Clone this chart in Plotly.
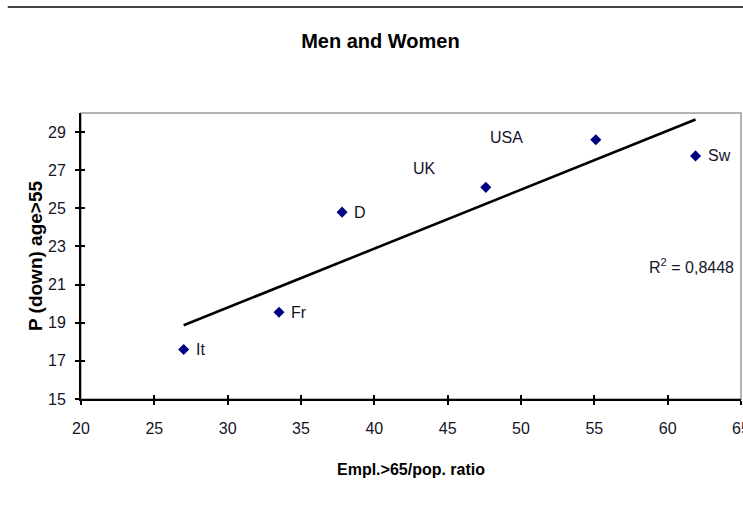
import numpy as np
import plotly.graph_objects as go

# ---- data ----
countries = ["It", "Fr", "D", "UK", "USA", "Sw"]
empl_ratio = [27.0, 33.5, 37.8, 47.6, 55.1, 61.9]      # Empl.>65/pop. ratio
p_down = [17.6, 19.55, 24.8, 26.1, 28.6, 27.75]        # P (down) age>55
x_ticks = [20, 25, 30, 35, 40, 45, 50, 55, 60, 65]
y_ticks = [15, 17, 19, 21, 23, 25, 27, 29]
r2_text = "R<sup>2</sup> = 0,8448"
title_text = "Men and Women"
x_title = "Empl.>65/pop. ratio"
y_title = "P (down) age>55"

FONT = "Liberation Sans, Arial, sans-serif"
TXT = "#15152a"

# linear trend (least squares) through the data
slope, intercept = np.polyfit(empl_ratio, p_down, 1)
tx = np.array([min(empl_ratio), max(empl_ratio)])
ty = slope * tx + intercept

fig = go.Figure()
fig.add_trace(go.Scatter(x=tx, y=ty, mode="lines",
                         line=dict(color="black", width=2.6),
                         hoverinfo="skip", showlegend=False))
fig.add_trace(go.Scatter(x=empl_ratio, y=p_down, mode="markers",
                         marker=dict(symbol="diamond", size=8.5, color="#000080"),
                         showlegend=False))
# invisible trace for the inner tick overlay axes
fig.add_trace(go.Scatter(x=[20], y=[15], xaxis="x2", yaxis="y2", mode="markers",
                         marker=dict(size=1, opacity=0),
                         showlegend=False, hoverinfo="skip"))

# country labels (offsets in pixels from each point)
label_offsets = {"It": (10, 0, "left"), "Fr": (10, 0, "left"), "D": (10, 0, "left"),
                 "UK": (-61, 19, "center"), "USA": (-89, 2, "center"), "Sw": (10, 0, "left")}
for c, xv, yv in zip(countries, empl_ratio, p_down):
    dx, dy, anc = label_offsets[c]
    fig.add_annotation(x=xv, y=yv, text=c, showarrow=False, xanchor=anc,
                       yanchor="middle", xshift=dx, yshift=dy,
                       font=dict(family=FONT, size=16, color=TXT))

fig.add_annotation(x=61.6, y=22.0, text=r2_text, showarrow=False,
                   xanchor="center", yanchor="middle",
                   font=dict(family=FONT, size=16, color=TXT))

axis_common = dict(showgrid=False, zeroline=False, showline=True,
                   linecolor="black", linewidth=2, ticks="outside",
                   ticklen=4, tickwidth=1.5, tickcolor="black",
                   ticklabeloverflow="allow", automargin=False,
                   tickfont=dict(family=FONT, size=16, color=TXT))

fig.update_layout(
    width=743, height=508,
    margin=dict(l=81, r=2, t=113, b=109),
    paper_bgcolor="white", plot_bgcolor="white",
    title=dict(text="<b>" + title_text + "</b>", x=0.512, xanchor="center",
               y=1 - 41 / 508, yanchor="middle",
               font=dict(family=FONT, size=20, color="black")),
    xaxis=dict(range=[20, 65], tickmode="array", tickvals=x_ticks,
               ticklabelstandoff=10,
               title=dict(text="<b>" + x_title + "</b>", standoff=28,
                          font=dict(family=FONT, size=16, color="black")),
               **axis_common),
    yaxis=dict(range=[15, 30], tickmode="array", tickvals=y_ticks,
               ticklabelstandoff=6,
               title=dict(text="<b>" + y_title + "</b>", standoff=0,
                          font=dict(family=FONT, size=19, color="black")),
               **axis_common),
    xaxis2=dict(range=[20, 65], overlaying="x", anchor="y", side="bottom",
                tickmode="array", tickvals=x_ticks, ticks="inside", ticklen=4,
                tickwidth=1.5, tickcolor="black", showticklabels=False,
                showgrid=False, zeroline=False, showline=False, automargin=False),
    yaxis2=dict(range=[15, 30], overlaying="y", anchor="x", side="left",
                tickmode="array", tickvals=y_ticks, ticks="inside", ticklen=4,
                tickwidth=1.5, tickcolor="black", showticklabels=False,
                showgrid=False, zeroline=False, showline=False, automargin=False),
    shapes=[
        # light frame of the plot area (top and right)
        dict(type="rect", xref="paper", yref="paper", x0=0, x1=1, y0=0, y1=1,
             line=dict(color="#9a9a9a", width=1.5), layer="below"),
        # rule across the top of the page
        dict(type="line", xref="paper", yref="paper", x0=-0.111, x1=1.01,
             y0=1.3706, y1=1.3706, line=dict(color="#444444", width=2)),
    ],
)

fig.write_html("out.html", config={"displayModeBar": False},
               post_script="document.body.style.margin='0px';"
                           "document.body.style.overflow='hidden';")
